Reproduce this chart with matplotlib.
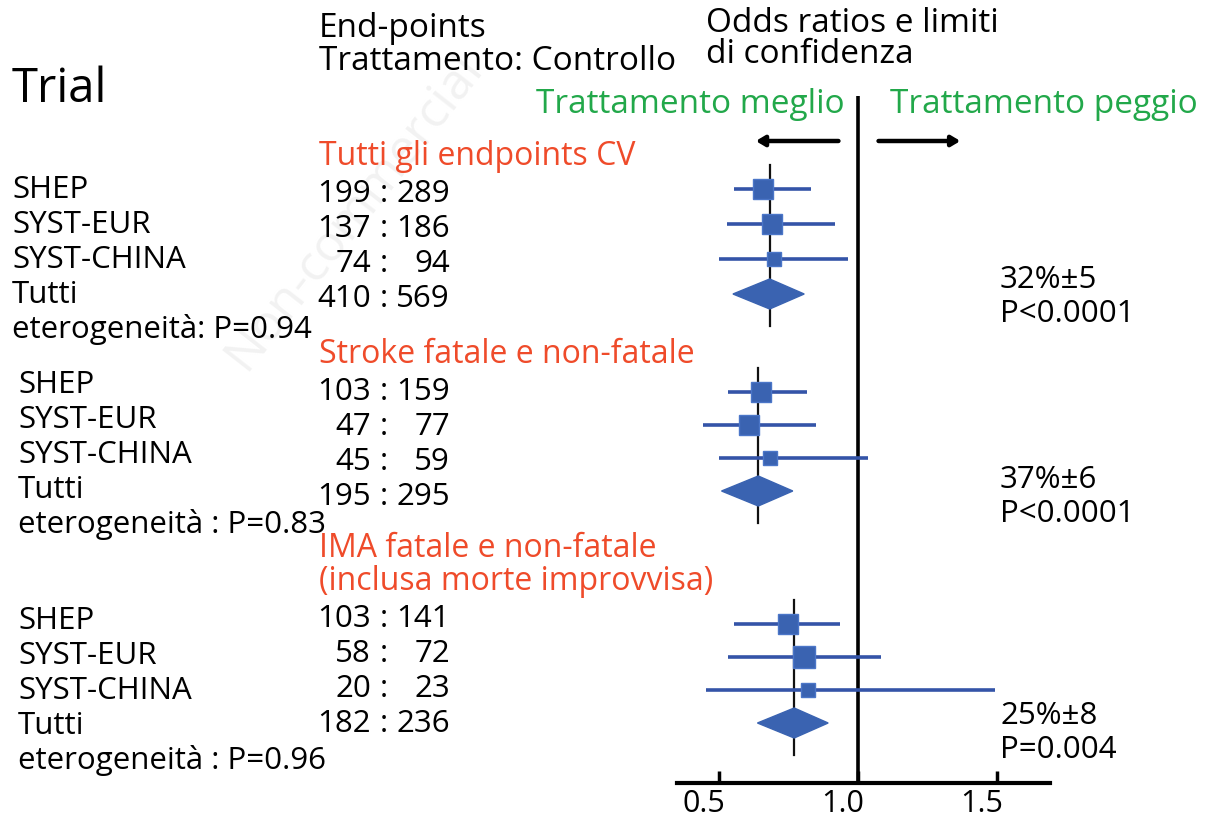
import matplotlib.pyplot as plt
from matplotlib.transforms import ScaledTranslation

# ── Data ─────────────────────────────────────────────────────
trials = ["SHEP", "SYST-EUR", "SYST-CHINA"]
groups = ["Tutti gli endpoints CV", "Stroke fatale e non-fatale",
          "IMA fatale e non-fatale\n(inclusa morte improvvisa)"]
het_labels = ["eterogeneità: P=0.94", "eterogeneità : P=0.83", "eterogeneità : P=0.96"]

# events treatment : control (trials + pooled "Tutti")
treated = [[199, 137, 74, 410], [103, 47, 45, 195], [103, 58, 20, 182]]
control = [[289, 186, 94, 569], [159, 77, 59, 295], [141, 72, 23, 236]]

# odds ratios and confidence limits per trial
or_est = [[0.658, 0.693, 0.698], [0.653, 0.607, 0.685], [0.747, 0.807, 0.821]]
or_lo = [[0.554, 0.531, 0.501], [0.535, 0.442, 0.501], [0.554, 0.535, 0.454]]
or_hi = [[0.833, 0.917, 0.966], [0.818, 0.848, 1.036], [0.936, 1.083, 1.494]]
weights = [[1.0, 1.0, 0.65], [1.0, 1.0, 0.65], [1.0, 1.05, 0.65]]

# pooled estimates (diamond)
pool_est = [0.683, 0.642, 0.771]
pool_lo = [0.551, 0.510, 0.639]
pool_hi = [0.807, 0.766, 0.893]
reduction = ["32%±5", "37%±6", "25%±8"]
p_values = ["P<0.0001", "P<0.0001", "P=0.004"]

# ── Styling ──────────────────────────────────────────────────
plt.rcParams["font.family"] = ["Open Sans", "DejaVu Sans"]
BLUE = "#3A63B1"
LINE_BLUE = "#3454A8"
GREEN = "#22A84A"
RED = "#EF4B2A"

W, H = 1205, 818
fig = plt.figure(figsize=(W / 100, H / 100), dpi=100)

# text layer in pixel coordinates (y from top)
tax = fig.add_axes([0, 0, 1, 1])
tax.set_xlim(0, W)
tax.set_ylim(H, 0)
tax.axis("off")

# faint watermark
tax.text(245, 372, "Non-commercial", fontsize=36, color="#f2f2f2",
         rotation=52, rotation_mode="anchor", ha="left", va="baseline", zorder=0)

# forest axes: x in odds ratio, y in pixel rows from top
AX_L, AX_R, AX_Y = 677, 1050, 783
ax = fig.add_axes([AX_L / W, (H - AX_Y) / H, (AX_R - AX_L) / W, AX_Y / H])
ax.set_xlim(0.35, 1.69)
ax.set_ylim(AX_Y, 0)
ax.patch.set_alpha(0)
for s in ["top", "left", "right"]:
    ax.spines[s].set_visible(False)
ax.spines["bottom"].set_linewidth(3)
ax.set_yticks([])
ax.set_xticks([0.5, 1.0, 1.5])
ax.set_xticklabels(["0.5", "1.0", "1.5"])
ax.tick_params(axis="x", direction="in", length=9, width=2.5, pad=4, labelsize=22)
for lab in ax.get_xticklabels():
    lab.set_transform(lab.get_transform() + ScaledTranslation(-0.15, 0, fig.dpi_scale_trans))

# line of no effect
ax.plot([1.0, 1.0], [96, AX_Y], color="black", lw=2.6, solid_capstyle="butt")

# direction arrows
arrow_style = dict(arrowstyle="-|>,head_length=0.5,head_width=0.3",
                   color="black", lw=3.2, shrinkA=0, shrinkB=0)
ax.annotate("", xy=(0.633, 141), xytext=(0.930, 141), arrowprops=arrow_style)
ax.annotate("", xy=(1.368, 141), xytext=(1.074, 141), arrowprops=arrow_style)

# forest rows
row_start = [189, 392, 624]
row_gap = [35, 33, 33]
for g in range(3):
    ys = [row_start[g] + i * row_gap[g] for i in range(4)]
    # pooled vertical line
    ax.plot([pool_est[g], pool_est[g]], [ys[0] - 24, ys[3] + 32],
            color="#111111", lw=1.6, zorder=1)
    for i in range(3):
        ax.plot([or_lo[g][i], or_hi[g][i]], [ys[i], ys[i]], color=LINE_BLUE,
                lw=2.6, solid_capstyle="butt", zorder=2)
        ax.plot(or_est[g][i], ys[i], marker="s", ms=14.5 * weights[g][i],
                color=BLUE, mec="#4B76C8", mew=1, zorder=3)
    yd = ys[3]
    ax.fill([pool_lo[g], pool_est[g], pool_hi[g], pool_est[g]],
            [yd, yd - 15, yd, yd + 15], color=BLUE, zorder=3)

# ── Texts ────────────────────────────────────────────────────
FS = 22.5
tax.text(12, 102, "Trial", fontsize=34, va="baseline")
tax.text(319, 37, "End-points", fontsize=24, va="baseline")
tax.text(319, 70, "Trattamento: Controllo", fontsize=24, va="baseline")
tax.text(706, 32, "Odds ratios e limiti", fontsize=24, va="baseline")
tax.text(706, 63, "di confidenza", fontsize=24, va="baseline")
tax.text(845, 113, "Trattamento meglio", fontsize=24, color=GREEN, ha="right", va="baseline")
tax.text(890, 113, "Trattamento peggio", fontsize=24, color=GREEN, va="baseline")

title_y = [165, 363, 557]
label_x = [12, 18, 18]
label_start = [198, 393, 629]
num_start = [202, 400, 627]
stat_y = [288, 488, 724]
gap = 35
for g in range(3):
    for k, line in enumerate(groups[g].split("\n")):
        tax.text(319, title_y[g] + k * 33, line, fontsize=23, color=RED, va="baseline")
    names = trials + ["Tutti", het_labels[g]]
    for i, name in enumerate(names):
        tax.text(label_x[g], label_start[g] + i * gap, name, fontsize=FS, va="baseline")
    for i in range(4):
        y = num_start[g] + i * gap
        tax.text(371, y, str(treated[g][i]), fontsize=FS, ha="right", va="baseline")
        tax.text(384, y, ":", fontsize=FS, ha="center", va="baseline")
        tax.text(450, y, str(control[g][i]), fontsize=FS, ha="right", va="baseline")
    tax.text(1000, stat_y[g], reduction[g], fontsize=FS, va="baseline")
    tax.text(1000, stat_y[g] + 34, p_values[g], fontsize=FS, va="baseline")

fig.savefig("out.png", dpi=100)
